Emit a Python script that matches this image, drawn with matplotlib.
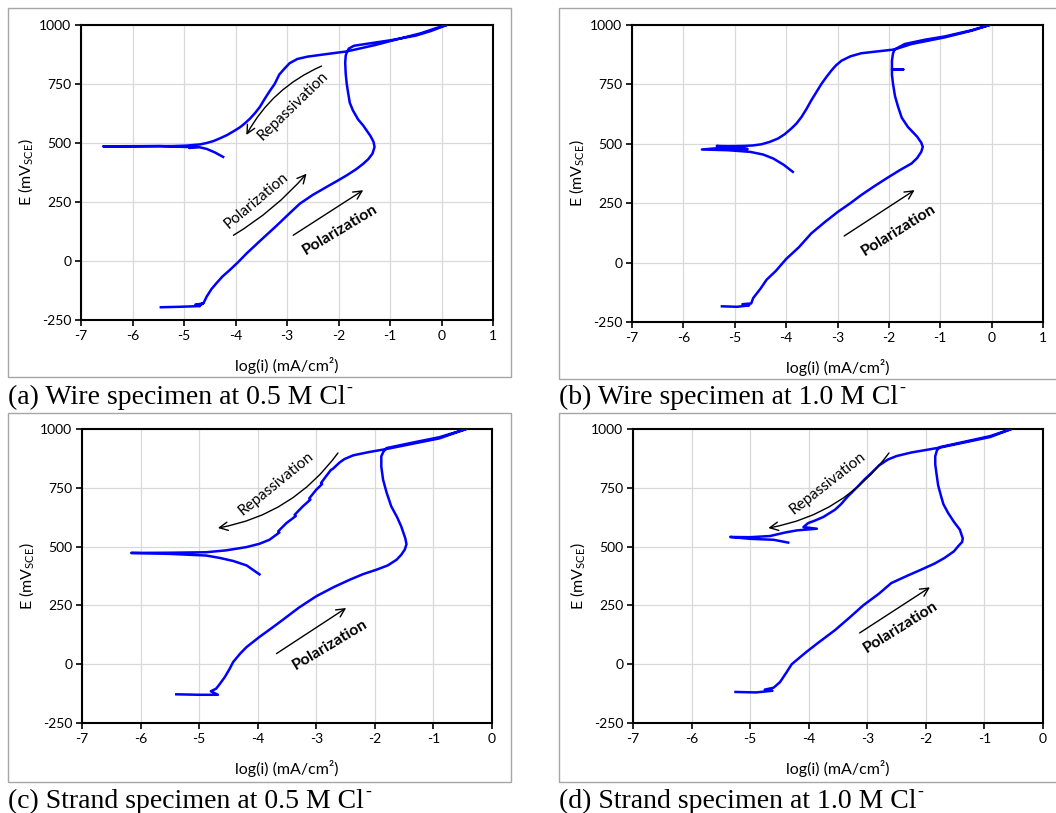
import matplotlib
matplotlib.use("Agg")
import matplotlib.pyplot as plt
from matplotlib.patches import Rectangle

plt.rcParams['font.family'] = ['Lato', 'DejaVu Sans']
plt.rcParams['mathtext.fontset'] = 'custom'
plt.rcParams['mathtext.rm'] = 'Lato'
plt.rcParams['mathtext.it'] = 'Lato:italic'
plt.rcParams['mathtext.bf'] = 'Lato:bold'
plt.rcParams['axes.unicode_minus'] = False

# (a) wire, 0.5 M Cl-   log(i) vs E (mV SCE)
a_logi = [-5.45, -5.08, -4.69, -4.78, -4.63, -4.72, -4.62, -4.56, -4.47, -4.37, -4.25,
          -4.11, -3.95, -3.78, -3.50, -3.20, -2.98, -2.75, -2.50, -2.23, -2.02, -1.84,
          -1.65, -1.52, -1.42, -1.34, -1.30, -1.32, -1.38, -1.52, -1.62, -1.72, -1.78,
          -1.81, -1.84, -1.86, -1.87, -1.86, -1.84, -1.80, -1.70, -1.40, -0.97, -0.50,
          -0.20, 0.10,
          -0.13, -0.40, -0.80, -1.29, -1.84, -2.26, -2.60, -2.80, -2.95, -3.05, -3.15,
          -3.24, -3.33, -3.43, -3.53, -3.62, -3.72, -3.82, -3.91, -4.05, -4.17, -4.30,
          -4.43, -4.56, -4.69, -4.95, -5.21, -5.98, -6.57,
          -5.47, -4.95, -4.75, -4.90, -4.70, -4.56, -4.40, -4.24]
a_E = [-196, -194, -191, -185, -180, -190, -178, -151, -120, -94, -65,
       -38, -5, 33, 90, 150, 196, 243, 280, 314, 340, 363,
       390, 412, 432, 455, 483, 505, 530, 574, 600, 638, 670,
       708, 750, 793, 840, 870, 884, 900, 912, 922, 936, 955,
       975, 1000,
       985, 965, 943, 915, 888, 876, 866, 856, 838, 815, 790,
       750, 722, 688, 652, 627, 603, 583, 567, 548, 533, 520,
       508, 500, 494, 489, 487, 486, 486,
       487, 483, 488, 479, 482, 475, 460, 441]

# (b) wire, 1.0 M Cl-
b_logi = [-5.25, -4.95, -4.72, -4.85, -4.68, -4.64, -4.50, -4.38, -4.20, -4.00, -3.75,
          -3.51, -3.25, -2.99, -2.75, -2.54, -2.28, -2.02, -1.78, -1.56, -1.45, -1.37,
          -1.34, -1.37, -1.45, -1.63, -1.75, -1.82, -1.88, -1.92, -1.94, -1.94, -1.72,
          -1.94, -1.94, -1.92, -1.89, -1.69, -1.30, -0.91, -0.39, -0.04,
          -0.39, -0.91, -1.56, -1.89, -2.30, -2.54, -2.75, -2.92, -3.03, -3.12, -3.22,
          -3.31, -3.41, -3.51, -3.60, -3.70, -3.80, -3.90, -4.03, -4.16, -4.32, -4.48,
          -4.65, -4.83, -5.13, -5.35, -5.00, -4.75, -5.20, -5.64,
          -5.13, -4.70, -4.45, -4.25, -4.05, -3.87]
b_E = [-184, -186, -180, -175, -172, -149, -110, -72, -35, 15, 65,
       123, 170, 214, 250, 284, 322, 358, 390, 417, 440, 466,
       487, 505, 530, 571, 610, 655, 700, 753, 790, 813, 813,
       813, 850, 880, 897, 920, 938, 952, 978, 1000,
       976, 948, 920, 897, 887, 881, 868, 850, 830, 808, 780,
       753, 718, 683, 648, 613, 585, 564, 540, 522, 508, 498,
       493, 491, 490, 491, 482, 478, 484, 476,
       473, 466, 455, 438, 412, 382]

# (c) strand, 0.5 M Cl-
c_logi = [-5.39, -5.00, -4.68, -4.80, -4.71, -4.65, -4.56, -4.48, -4.42, -4.30, -4.19,
          -3.97, -3.77, -3.57, -3.30, -3.00, -2.70, -2.43, -2.20, -1.97, -1.78, -1.63,
          -1.55, -1.49, -1.46, -1.48, -1.55, -1.62, -1.72, -1.80, -1.86, -1.89, -1.89,
          -1.85, -1.80, -1.30, -0.90, -0.44,
          -0.90, -1.30, -1.80, -2.10, -2.37, -2.52, -2.60, -2.72, -2.75, -2.83, -2.92,
          -2.90, -3.00, -3.12, -3.10, -3.23, -3.37, -3.35, -3.51, -3.65, -3.63, -3.80,
          -3.97, -4.19, -4.54, -4.88, -5.50, -6.16,
          -5.50, -4.88, -4.65, -4.42, -4.19, -3.97]
c_E = [-128, -130, -130, -115, -104, -85, -54, -20, 9, 45, 73,
       116, 152, 189, 240, 289, 328, 359, 383, 402, 420, 444,
       465, 487, 510, 535, 586, 625, 671, 730, 785, 840, 884,
       905, 919, 945, 965, 1000,
       960, 940, 915, 902, 888, 872, 858, 830, 826, 800, 770,
       766, 742, 705, 700, 671, 635, 630, 600, 565, 560, 529,
       512, 498, 484, 476, 474, 473,
       469, 462, 452, 439, 420, 382]

# (d) strand, 1.0 M Cl-
d_logi = [-5.25, -4.90, -4.62, -4.75, -4.60, -4.49, -4.38, -4.29, -4.05, -3.86, -3.55,
          -3.29, -3.07, -2.80, -2.59, -2.30, -2.08, -1.85, -1.68, -1.52, -1.45, -1.38,
          -1.37, -1.42, -1.52, -1.62, -1.70, -1.74, -1.79, -1.82, -1.84, -1.84, -1.81,
          -1.76, -1.30, -0.90, -0.54,
          -0.90, -1.30, -1.74, -2.25, -2.50, -2.65, -2.80, -2.93, -3.05, -3.16, -3.33,
          -3.45, -3.55, -3.75, -3.90, -4.01, -4.09, -3.86, -4.20, -4.40, -4.66, -5.00,
          -5.34,
          -5.00, -4.60, -4.35]
d_E = [-118, -120, -113, -108, -100, -76, -35, 0, 50, 87, 145,
       201, 250, 300, 345, 378, 402, 428, 452, 480, 501, 520,
       535, 572, 605, 643, 680, 714, 760, 813, 850, 884, 910,
       923, 948, 970, 1000,
       966, 945, 922, 900, 885, 870, 845, 813, 785, 756, 714,
       680, 657, 626, 610, 600, 583, 576, 569, 560, 545, 540,
       541,
       533, 529, 517]

panels = [
    dict(x=a_logi, y=a_E, xmax=1, cap="(a) Wire specimen at 0.5 M Cl"),
    dict(x=b_logi, y=b_E, xmax=1, cap="(b) Wire specimen at 1.0 M Cl"),
    dict(x=c_logi, y=c_E, xmax=0, cap="(c) Strand specimen at 0.5 M Cl"),
    dict(x=d_logi, y=d_E, xmax=0, cap="(d) Strand specimen at 1.0 M Cl"),
]

W, H = 1056, 813
fig = plt.figure(figsize=(W / 100, H / 100), dpi=100)

# axes boxes in pixels: left, top, right, bottom
boxes = [(81, 25, 493, 320), (632, 25, 1043, 322), (82, 429, 492, 723), (633, 429, 1043, 723)]
frames = [(8, 8, 511, 377), (559, 8, 1060, 379), (8, 413, 511, 782), (559, 413, 1060, 782)]
cap_pos = [(8, 404), (559, 404), (8, 808), (559, 808)]

axes = []
for p, (l, t, r, b), (fl, ft, fr, fb), (cx, cy) in zip(panels, boxes, frames, cap_pos):
    fig.patches.append(Rectangle((fl / W, 1 - fb / H), (fr - fl) / W, (fb - ft) / H,
                                 transform=fig.transFigure, fill=False,
                                 edgecolor='#a6a6a6', lw=1.0))
    ax = fig.add_axes([l / W, 1 - b / H, (r - l) / W, (b - t) / H])
    ax.plot(p['x'], p['y'], color='#0000ff', lw=1.8, solid_joinstyle='round', zorder=3)
    ax.set_xlim(-7, p['xmax'])
    ax.set_ylim(-250, 1000)
    ax.set_xticks(range(-7, p['xmax'] + 1))
    ax.set_yticks([-250, 0, 250, 500, 750, 1000])
    ax.grid(True, color='#d9d9d9', lw=0.9)
    ax.set_axisbelow(True)
    for s in ax.spines.values():
        s.set_linewidth(1.5)
        s.set_color('black')
    ax.tick_params(direction='out', length=4, width=1.2, labelsize=10, pad=3)
    ax.set_xlabel('log(i) (mA/cm²)', fontsize=11.5)
    ax.set_ylabel(r'E (mV$_{\mathrm{SCE}}$)', fontsize=11.5)
    ax.xaxis.set_label_coords(0.5, -0.125)
    ax.yaxis.set_label_coords(-0.112, 0.5)
    t1 = fig.text(cx / W, 1 - cy / H, p['cap'], fontsize=20, va='baseline',
                  family=['Liberation Serif', 'DejaVu Serif'])
    fig.canvas.draw()
    bb = t1.get_window_extent()
    fig.text(bb.x1 / W + 0.001, 1 - (cy - 11) / H, '-', fontsize=13, va='baseline',
             family=['Liberation Serif', 'DejaVu Serif'])
    axes.append(ax)

arr = dict(arrowstyle='->', color='black', lw=1.0, mutation_scale=15, shrinkA=0, shrinkB=0)
bold_kw = dict(fontsize=11.5, fontweight='bold', ha='center', va='center', rotation_mode='anchor')
thin_kw = dict(fontsize=11, ha='center', va='center', rotation_mode='anchor')

# (a)
ax = axes[0]
ax.annotate('', xy=(-3.79, 534), xytext=(-2.33, 826),
            arrowprops=dict(arr, connectionstyle='arc3,rad=0.17'))
ax.text(-2.88, 655, 'Repassivation', rotation=44, **thin_kw)
ax.annotate('', xy=(-2.62, 370), xytext=(-4.04, 109),
            arrowprops=dict(arr, connectionstyle='arc3,rad=0.08'))
ax.text(-3.60, 257, 'Polarization', rotation=40, **thin_kw)
ax.annotate('', xy=(-1.52, 300), xytext=(-2.88, 109), arrowprops=arr)
ax.text(-1.96, 133, 'Polarization', rotation=31, **bold_kw)

# (b)
ax = axes[1]
ax.annotate('', xy=(-1.50, 305), xytext=(-2.87, 112), arrowprops=arr)
ax.text(-1.81, 135, 'Polarization', rotation=32, **bold_kw)

# (c)
ax = axes[2]
ax.annotate('', xy=(-4.68, 579), xytext=(-2.63, 898),
            arrowprops=dict(arr, connectionstyle='arc3,rad=-0.2'))
ax.text(-3.68, 770, 'Repassivation', rotation=39, **thin_kw)
ax.annotate('', xy=(-2.49, 239), xytext=(-3.68, 45), arrowprops=arr)
ax.text(-2.76, 83, 'Polarization', rotation=31, **bold_kw)

# (d)
ax = axes[3]
ax.annotate('', xy=(-4.69, 579), xytext=(-2.63, 898),
            arrowprops=dict(arr, connectionstyle='arc3,rad=-0.2'))
ax.text(-3.68, 770, 'Repassivation', rotation=38, **thin_kw)
ax.annotate('', xy=(-1.93, 327), xytext=(-3.13, 133), arrowprops=arr)
ax.text(-2.43, 157, 'Polarization', rotation=32, **bold_kw)

fig.savefig('out.png', dpi=100)
